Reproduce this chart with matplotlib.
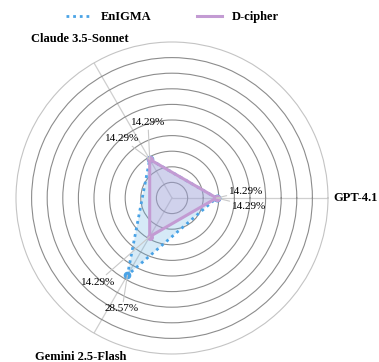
import matplotlib
matplotlib.use("Agg")
import matplotlib.pyplot as plt
import numpy as np

plt.rcParams['font.family'] = ['Liberation Serif', 'DejaVu Serif']

# data
models = ['GPT-4.1', 'Claude 3.5-Sonnet', 'Gemini 2.5-Flash']
enigma = [14.29, 14.29, 28.57]
dcipher = [14.29, 14.29, 14.29]

# label placement (angle in deg, radius in data units)
enigma_lab = [(5.3, 24.0), (130.0, 24.7), (245.8, 39.0)]
dcipher_lab = [(-5.9, 25.0), (107.7, 25.3), (228.6, 35.9)]

angles = np.deg2rad([0, 120, 240])
ang_c = np.append(angles, angles[0])

blue = '#4aa3e6'
purple = '#c39bd3'

fig = plt.figure(figsize=(3.79, 3.62), dpi=100)
ax = fig.add_axes([0.0422, 0.0221, 0.8232, 0.8619], projection='polar')
ax.set_axisbelow(True)

e = np.append(enigma, enigma[0])
d = np.append(dcipher, dcipher[0])

ax.fill(ang_c, e, color='#5dade2', alpha=0.25, lw=0)
ax.plot(ang_c, e, color=blue, ls=(0, (1, 1.4)), lw=2.0, marker='o', ms=4.5, label='EnIGMA')
ax.fill(ang_c, d, color=purple, alpha=0.3, lw=0)
ax.plot(ang_c, d, color=purple, ls='-', lw=2.2, marker='o', ms=4, label='D-cipher')

ax.set_ylim(0, 50)
ax.set_yticks(np.arange(5, 50, 5))
ax.set_yticklabels([])
ax.yaxis.grid(True, color='#8c8c8c', lw=0.8)
ax.set_xticks(angles)
ax.set_xticklabels([])
ax.xaxis.grid(True, color='#cfcfcf', lw=0.9)
ax.spines['polar'].set_color('#c4c4c4')
ax.spines['polar'].set_linewidth(0.8)

for a, m in zip(angles, models):
    ax.text(a, 58.8, m, ha='center', va='center', fontsize=9, fontweight='bold')

for vals, labs in [(enigma, enigma_lab), (dcipher, dcipher_lab)]:
    for a, v, (ta, tr) in zip(angles, vals, labs):
        ax.annotate(f'{v:.2f}%', xy=(a, v), xytext=(np.deg2rad(ta), tr),
                    ha='center', va='center', fontsize=8,
                    arrowprops=dict(arrowstyle='-', color='#c8c8c8', lw=0.8,
                                    shrinkA=0, shrinkB=0))

fig.legend(loc='upper center', bbox_to_anchor=(0.455, 1.0), ncol=2, frameon=False,
           prop={'weight': 'bold', 'size': 9}, handlelength=2.0,
           handletextpad=0.8, columnspacing=3.6)
for line in fig.legends[0].get_lines():
    line.set_marker('')

plt.savefig('out.png', dpi=100)
